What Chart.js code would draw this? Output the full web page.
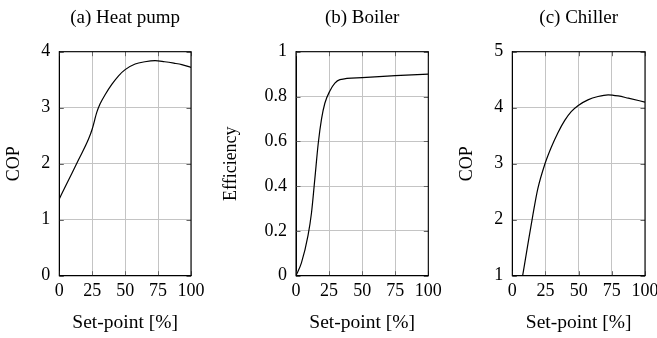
<!DOCTYPE html>
<html>
<head>
<meta charset="utf-8">
<script src="https://cdn.jsdelivr.net/npm/chart.js@4/dist/chart.umd.min.js"></script>
<style>
  html, body { margin: 0; padding: 0; background: #fff; }
  #wrap { position: relative; width: 657px; height: 338px; overflow: hidden; background: #fff; }
  canvas { position: absolute; top: 0; }
</style>
</head>
<body>
<div id="wrap">
  <canvas id="hp" width="217" height="338" style="left:0px"></canvas>
  <canvas id="boiler" width="236" height="338" style="left:217px"></canvas>
  <canvas id="chiller" width="204" height="338" style="left:453px"></canvas>
</div>
<script>
// Part-load curves: set-point [%] against performance
const xTicks = [0, 25, 50, 75, 100];

// (a) Heat pump: COP
const hpSetpoint = [0, 4.5, 9.6, 14.6, 22.2, 25, 28.5, 31, 35, 40, 45, 50, 57.6, 65, 72.7, 80, 87, 93, 100];
const hpCop      = [1.37, 1.59, 1.83, 2.07, 2.44, 2.62, 2.92, 3.07, 3.24, 3.42, 3.57, 3.68, 3.78, 3.82, 3.84, 3.82, 3.795, 3.77, 3.72];
const hpYTicks = [0, 1, 2, 3, 4];

// (b) Boiler: efficiency
const boilerSetpoint   = [0, 4.1, 9.1, 11.7, 14.2, 16.8, 19.3, 21.8, 25.6, 29.4, 33.2, 50, 75, 100];
const boilerEfficiency = [0, 0.057, 0.18, 0.28, 0.43, 0.59, 0.70, 0.77, 0.825, 0.86, 0.875, 0.884, 0.893, 0.90];
const boilerYTicks = [0, 0.2, 0.4, 0.6, 0.8, 1];

// (c) Chiller: COP
const chillerSetpoint = [7.8, 11.6, 15.4, 19.2, 24.5, 29.3, 34.3, 39.4, 44.4, 49.7, 57, 64.6, 72.2, 79.8, 87.4, 100];
const chillerCop      = [1.0, 1.54, 2.07, 2.55, 2.99, 3.29, 3.55, 3.77, 3.93, 4.04, 4.14, 4.20, 4.23, 4.21, 4.17, 4.10];
const chillerYTicks = [1, 2, 3, 4, 5];

const SERIF = "'Liberation Serif', 'Times New Roman', serif";
const TICK_FONT = { family: SERIF, size: 18, weight: 'normal' };
const TITLE_FONT = { family: SERIF, size: 19, weight: 'normal' };
const XTITLE_FONT = { family: SERIF, size: 19.5, weight: 'normal' };
const YTITLE_FONT = { family: SERIF, size: 18, weight: 'normal' };
const CANVAS_H = 338;
const PLOT_TOP = 51.7;
const PLOT_BOTTOM = 275.7;

// Closed frame with short inward tick marks, pgfplots style
const framePlugin = {
  id: 'frame',
  beforeDatasetsDraw(chart) {
    const { ctx, chartArea: a, scales } = chart;
    const len = 4.5;
    ctx.save();
    ctx.strokeStyle = '#666';
    ctx.lineWidth = 1;
    ctx.beginPath();
    scales.x.ticks.forEach((t, i) => {
      const px = Math.round(scales.x.getPixelForTick(i)) + 0.5;
      ctx.moveTo(px, a.bottom); ctx.lineTo(px, a.bottom - len);
      ctx.moveTo(px, a.top); ctx.lineTo(px, a.top + len);
    });
    scales.y.ticks.forEach((t, i) => {
      const py = Math.round(scales.y.getPixelForTick(i)) + 0.5;
      ctx.moveTo(a.left, py); ctx.lineTo(a.left + len, py);
      ctx.moveTo(a.right, py); ctx.lineTo(a.right - len, py);
    });
    ctx.stroke();
    ctx.strokeStyle = '#000';
    ctx.lineWidth = 1.1;
    ctx.strokeRect(a.left, a.top, a.right - a.left, a.bottom - a.top);
    ctx.restore();
  }
};

function panel(id, title, yTitle, xs, ys, yTicks, plotLeft, plotRight, canvasW) {
  const points = xs.map((x, i) => ({ x: x, y: ys[i] }));
  const titleTop = 7;
  return new Chart(document.getElementById(id), {
    type: 'line',
    data: {
      datasets: [{
        data: points,
        borderColor: '#000',
        borderWidth: 1.2,
        pointRadius: 0,
        fill: false,
        cubicInterpolationMode: 'monotone'
      }]
    },
    options: {
      responsive: false,
      animation: false,
      events: [],
      layout: { padding: { left: 0, right: canvasW - plotRight, top: 0, bottom: 0 } },
      plugins: {
        legend: { display: false },
        tooltip: { enabled: false },
        title: {
          display: true, text: title, color: '#000', font: TITLE_FONT,
          fullSize: false,
          padding: { top: titleTop, bottom: PLOT_TOP - titleTop - TITLE_FONT.size * 1.2 }
        }
      },
      scales: {
        x: {
          type: 'linear',
          min: xTicks[0], max: xTicks[xTicks.length - 1],
          afterBuildTicks(s) { s.ticks = xTicks.map(v => ({ value: v })); },
          ticks: { color: '#000', font: TICK_FONT, padding: 5, maxRotation: 0, autoSkip: false },
          grid: { color: '#c4c4c4', lineWidth: 1, drawTicks: false },
          border: { color: '#000', width: 1 },
          title: { display: true, text: 'Set-point [%]', color: '#000', font: XTITLE_FONT, padding: { top: 0, bottom: 3 } },
          afterFit(s) { s.height = CANVAS_H - PLOT_BOTTOM; s.paddingLeft = 0; s.paddingRight = 0; }
        },
        y: {
          type: 'linear',
          min: yTicks[0], max: yTicks[yTicks.length - 1],
          afterBuildTicks(s) { s.ticks = yTicks.map(v => ({ value: v })); },
          ticks: {
            color: '#000', font: TICK_FONT, padding: 9,
            callback: v => String(Number(v.toFixed(2)))
          },
          grid: { color: '#c4c4c4', lineWidth: 1, drawTicks: false },
          border: { color: '#000', width: 1 },
          title: { display: true, text: yTitle, color: '#000', font: YTITLE_FONT, padding: { top: 3.5, bottom: 0 } },
          afterFit(s) { s.width = plotLeft; s.paddingTop = 0; s.paddingBottom = 0; }
        }
      }
    },
    plugins: [framePlugin]
  });
}

panel('hp', '(a) Heat pump', 'COP', hpSetpoint, hpCop, hpYTicks, 59.3, 191, 217);
panel('boiler', '(b) Boiler', 'Efficiency', boilerSetpoint, boilerEfficiency, boilerYTicks, 79, 211.3, 236);
panel('chiller', '(c) Chiller', 'COP', chillerSetpoint, chillerCop, chillerYTicks, 59.3, 192, 204);
</script>
</body>
</html>
